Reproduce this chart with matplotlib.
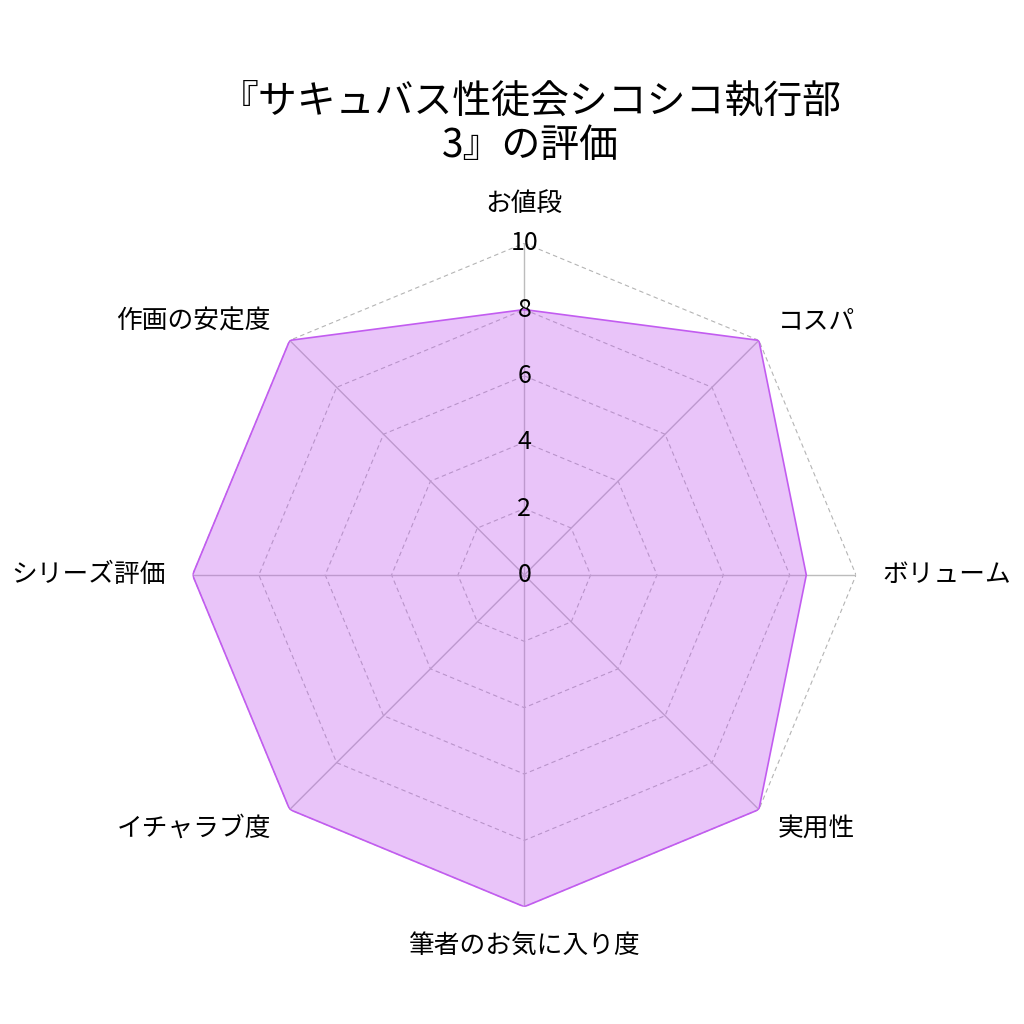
import numpy as np
import matplotlib
matplotlib.use('Agg')
import matplotlib.pyplot as plt

plt.rcParams['font.family'] = ['Noto Sans CJK JP', 'DejaVu Sans']

title = '『サキュバス性徒会シコシコ執行部\n3』の評価'
categories = ['お値段', 'コスパ', 'ボリューム', '実用性', '筆者のお気に入り度',
              'イチャラブ度', 'シリーズ評価', '作画の安定度']
scores = [8, 10, 8.5, 10, 10, 10, 10, 10]
ticks = [0, 2, 4, 6, 8, 10]

n = len(categories)
angles = np.arange(n) * 2 * np.pi / n
ang_closed = np.append(angles, angles[0])

fig = plt.figure(figsize=(10.24, 10.24), dpi=100)
ax = fig.add_axes([0.188, 0.1145, 0.648, 0.648], polar=True)
ax.set_theta_zero_location('N')
ax.set_theta_direction(-1)
ax.set_ylim(0, 10)
ax.grid(False)
ax.spines['polar'].set_visible(False)
ax.set_xticks([])
ax.set_yticks([])
ax.patch.set_alpha(0)

# polygon grid
for t in ticks[1:]:
    ax.plot(ang_closed, [t] * (n + 1), color='#b4b4b4', lw=0.8,
            ls=(0, (4, 3)), zorder=1)
for a in angles:
    ax.plot([a, a], [0, 10], color='#bcbcbc', lw=1.0, zorder=1)

vals = np.append(scores, scores[0])
ax.fill(ang_closed, vals, color='#c25cf0', alpha=0.36, lw=0, zorder=2)
ax.plot(ang_closed, vals, color='#c25cf0', lw=1.2, zorder=4)

for t in ticks:
    ax.text(0, t, str(t), ha='center', va='center', fontsize=18, zorder=5)

for a, lab in zip(angles, categories):
    s, c = np.sin(a), np.cos(a)
    if abs(s) < 1e-6:
        ha = 'center'
        va = 'bottom' if c > 0 else 'top'
    else:
        ha = 'left' if s > 0 else 'right'
        va = 'center'
    ax.text(a, 10.8, lab, ha=ha, va=va, fontsize=18.5)

fig.text(0.518, 0.879, title, ha='center', va='center', fontsize=28,
         linespacing=1.14)

fig.savefig('out.png', dpi=100)
